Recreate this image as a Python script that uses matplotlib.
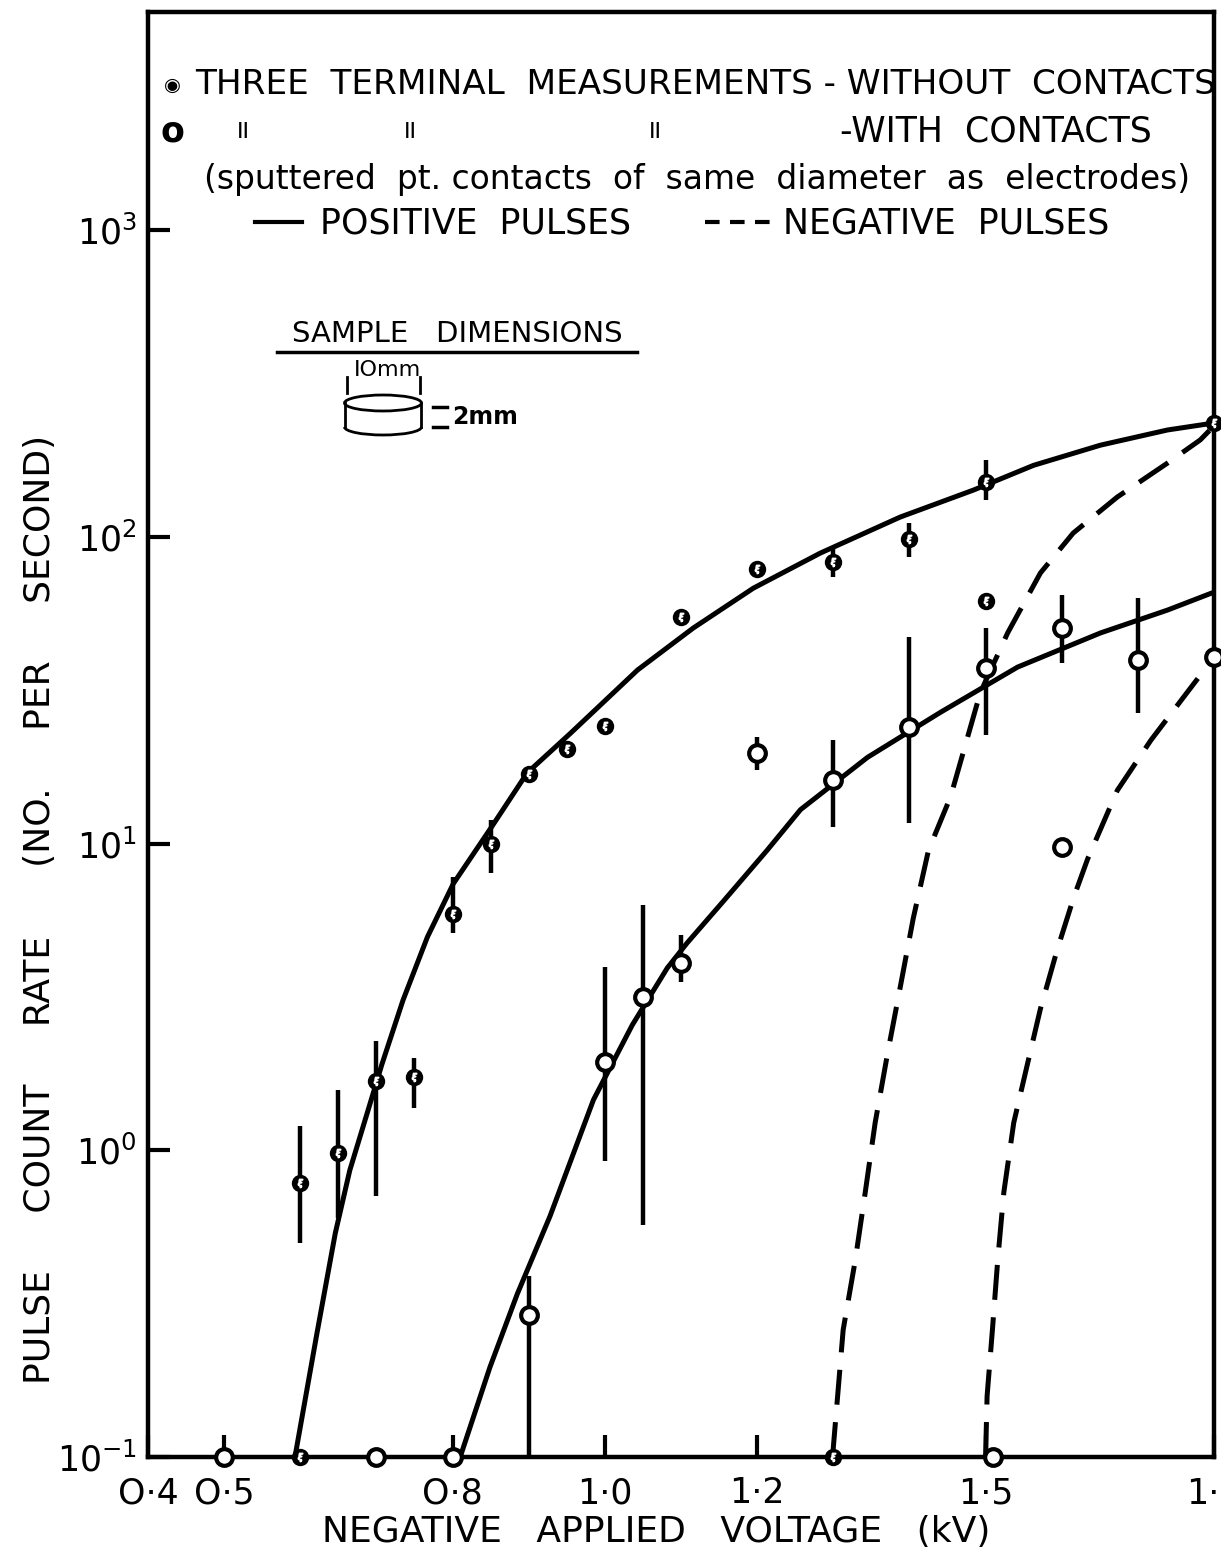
import matplotlib
matplotlib.use('Agg')
import matplotlib.pyplot as pl
from matplotlib.lines import Line2D
from matplotlib.patches import Ellipse, Arc
import numpy as np

# three terminal, without contacts (counts on the axis = zero)
v_wo = [0.6, 0.65, 0.7, 0.75, 0.8, 0.85, 0.9, 0.95, 1.0, 1.1, 1.2, 1.3, 1.4, 1.5, 1.5, 1.8]
r_wo = [0.78, 0.98, 1.68, 1.73, 5.9, 10.0, 16.9, 20.3, 24.2, 54.7, 78.5, 82.8, 98.4, 151, 61.8, 235]
lo_wo = [0.50, 0.60, 0.71, 1.37, 5.1, 8.0, np.nan, np.nan, np.nan, np.nan, np.nan, 74, 85.9, 132, np.nan, np.nan]
hi_wo = [1.20, 1.57, 2.27, 2.0, 7.8, 11.9, np.nan, np.nan, np.nan, np.nan, np.nan, 92.6, 111, 178, np.nan, np.nan]
v_wo_zero = [0.6, 1.3]
r_wo_zero = [0.1, 0.1]

# with sputtered contacts
v_w = [0.9, 1.0, 1.05, 1.1, 1.2, 1.3, 1.4, 1.5, 1.6, 1.6, 1.7, 1.8]
r_w = [0.29, 1.94, 3.16, 4.08, 19.7, 16.1, 24.0, 37.3, 50.4, 9.75, 39.6, 40.5]
lo_w = [0.1, 0.92, 0.57, 3.54, 17.4, 11.3, 11.7, 22.6, 38.8, np.nan, 26.6, np.nan]
hi_w = [0.39, 3.96, 6.3, 5.03, 22.2, 21.7, 47.1, 50.4, 64.6, np.nan, 63.1, np.nan]
v_w_zero = [0.5, 0.7, 0.8, 1.51]
r_w_zero = [0.1, 0.1, 0.1, 0.1]

# hand drawn curves
pos_wo_v = [0.593, 0.622, 0.646, 0.665, 0.689, 0.707, 0.735, 0.767, 0.801, 0.853, 0.898,
            0.955, 1.043, 1.116, 1.195, 1.283, 1.388, 1.484, 1.563, 1.651, 1.739, 1.8]
pos_wo_r = [0.1, 0.254, 0.537, 0.86, 1.35, 1.90, 3.09, 4.96, 7.4, 11.5, 17.0,
            22.9, 36.8, 50.4, 68, 88.5, 116, 142, 171, 199, 223, 235]
pos_w_v = [0.810, 0.849, 0.885, 0.928, 0.985, 1.036, 1.082, 1.108, 1.156, 1.213, 1.257,
           1.345, 1.441, 1.542, 1.651, 1.739, 1.8]
pos_w_r = [0.1, 0.196, 0.34, 0.61, 1.46, 2.56, 3.93, 4.74, 6.5, 9.5, 12.9,
           19.1, 26.8, 37.6, 48.6, 57.7, 66]
neg_wo_v = [1.299, 1.313, 1.329, 1.342, 1.355, 1.371, 1.388, 1.405, 1.425, 1.454, 1.493,
            1.529, 1.572, 1.615, 1.673, 1.739, 1.782, 1.8]
neg_wo_r = [0.1, 0.26, 0.44, 0.73, 1.23, 2.05, 3.41, 5.7, 9.5, 14.2, 31.0,
            48.6, 76.2, 102.8, 134.8, 174, 207, 230]
neg_w_v = [1.500, 1.502, 1.509, 1.516, 1.524, 1.537, 1.555, 1.572, 1.594, 1.616, 1.634,
           1.673, 1.717, 1.760, 1.8]
neg_w_r = [0.1, 0.158, 0.26, 0.44, 0.73, 1.23, 1.91, 2.89, 4.5, 6.7, 8.9,
           14.9, 21.7, 30.0, 40.5]

xticks = [0.4, 0.5, 0.8, 1.0, 1.2, 1.5, 1.8]
xticklabels = ['O·4', 'O·5', 'O·8', '1·0', '1·2', '1·5', '1·8']
yticks = [0.1, 1, 10, 100, 1000]
yticklabels = [r'$10^{-1}$', r'$10^{0}$', r'$10^{1}$', r'$10^{2}$', r'$10^{3}$']

pl.rcParams['font.family'] = ['DejaVu Sans']
pl.rcParams['mathtext.fontset'] = 'dejavusans'

W, H = 1221, 1561
fig = pl.figure(figsize=(W / 100, H / 100), dpi=100)
ax = fig.add_axes([148 / W, 1 - 1457 / H, 1066 / W, 1445 / H])


def fx(px):
    return px / W


def fy(py):
    return 1 - py / H


lw = 3.6
ax.plot(pos_wo_v, pos_wo_r, color='k', lw=lw, zorder=2)
ax.plot(pos_w_v, pos_w_r, color='k', lw=lw, zorder=2)
ax.plot(neg_wo_v, neg_wo_r, color='k', lw=lw, dashes=(7, 3.5), zorder=2)
ax.plot(neg_w_v, neg_w_r, color='k', lw=lw, dashes=(7, 3.5), zorder=2)

# error bars
m = ~np.isnan(lo_wo)
ax.vlines(np.array(v_wo)[m], np.array(lo_wo)[m], np.array(hi_wo)[m],
          color='k', lw=3.2, zorder=3)
m = ~np.isnan(lo_w)
ax.vlines(np.array(v_w)[m], np.array(lo_w)[m], np.array(hi_w)[m],
          color='k', lw=3.2, zorder=3)


def star_pts(x, y, size=11):
    ax.plot(x, y, 'o', ms=size, mfc='k', mec='k', mew=1.5, ls='none',
            zorder=5, clip_on=False)
    ax.plot(x, y, marker=r'$\xi$', ms=size * 0.55, color='w', ls='none',
            zorder=6, clip_on=False)


def open_pts(x, y, size=12):
    ax.plot(x, y, 'o', ms=size, mfc='w', mec='k', mew=3, ls='none',
            zorder=5, clip_on=False)


star_pts(v_wo, r_wo)
star_pts(v_wo_zero, r_wo_zero)
open_pts(v_w, r_w)
open_pts(v_w_zero, r_w_zero)

ax.set_yscale('log')
ax.set_xlim(0.4, 1.8)
ax.set_ylim(0.1, 5140)
ax.set_xticks(xticks)
ax.set_xticklabels(xticklabels, fontsize=25)
ax.set_yticks(yticks)
ax.set_yticklabels(yticklabels, fontsize=25)
ax.minorticks_off()
ax.tick_params(axis='both', direction='in', width=3, length=16)
ax.tick_params(axis='x', pad=14)
ax.tick_params(axis='y', pad=8)
for s in ax.spines.values():
    s.set_linewidth(3.2)

ax.set_xlabel('NEGATIVE   APPLIED   VOLTAGE   (kV)', fontsize=26)
ax.xaxis.set_label_coords(0.477, -0.040)
ax.set_ylabel('PULSE     COUNT     RATE      (NO.     PER     SECOND)', fontsize=26)
ax.yaxis.set_label_coords(-0.085, 0.379)

# key at the top
fs = 25
fig.text(fx(172), fy(85), '◉', fontsize=14, ha='center', va='center')
fig.text(fx(195), fy(85), 'THREE  TERMINAL  MEASUREMENTS - WITHOUT  CONTACTS',
         fontsize=fs - 0.3, va='center')
fig.text(fx(172), fy(132), 'o', fontsize=fs, ha='center', va='center', weight='bold')
for px in [243, 410, 655]:
    fig.text(fx(px), fy(132), 'II', fontsize=16, ha='center', va='center')
fig.text(fx(840), fy(132), '-WITH  CONTACTS', fontsize=fs, va='center')
fig.text(fx(697), fy(180), '(sputtered  pt. contacts  of  same  diameter  as  electrodes)',
         fontsize=23.7, ha='center', va='center')
fig.add_artist(Line2D([fx(255), fx(302)], [fy(222), fy(222)], color='k', lw=3))
fig.text(fx(320), fy(224), 'POSITIVE  PULSES', fontsize=fs, va='center')
fig.add_artist(Line2D([fx(705), fx(772)], [fy(222), fy(222)], color='k', lw=3,
                      dashes=(3.5, 2.5)))
fig.text(fx(783), fy(224), 'NEGATIVE  PULSES', fontsize=fs, va='center')

# sample sketch
fig.text(fx(457), fy(334), 'SAMPLE   DIMENSIONS', fontsize=21, ha='center', va='center')
fig.add_artist(Line2D([fx(277), fx(637)], [fy(352), fy(352)], color='k', lw=2.5))
fig.text(fx(388), fy(370), 'IOmm', fontsize=16, ha='center', va='center')
fig.add_artist(Line2D([fx(347), fx(347)], [fy(377), fy(393)], color='k', lw=2))
fig.add_artist(Line2D([fx(420), fx(420)], [fy(377), fy(393)], color='k', lw=2))
fig.add_artist(Ellipse((fx(383), fy(403)), 77 / W, 16 / H, fill=False, lw=2,
                       transform=fig.transFigure))
fig.add_artist(Line2D([fx(345), fx(345)], [fy(403), fy(427)], color='k', lw=2))
fig.add_artist(Line2D([fx(421), fx(421)], [fy(403), fy(427)], color='k', lw=2))
fig.add_artist(Arc((fx(383), fy(427)), 77 / W, 16 / H, theta1=180, theta2=360, lw=2,
                   transform=fig.transFigure))
fig.add_artist(Line2D([fx(433), fx(447)], [fy(407), fy(407)], color='k', lw=2.5))
fig.add_artist(Line2D([fx(433), fx(447)], [fy(427), fy(427)], color='k', lw=2.5))
fig.text(fx(452), fy(417), '2mm', fontsize=17, weight='bold', va='center')

fig.savefig('out.png', dpi=100)
